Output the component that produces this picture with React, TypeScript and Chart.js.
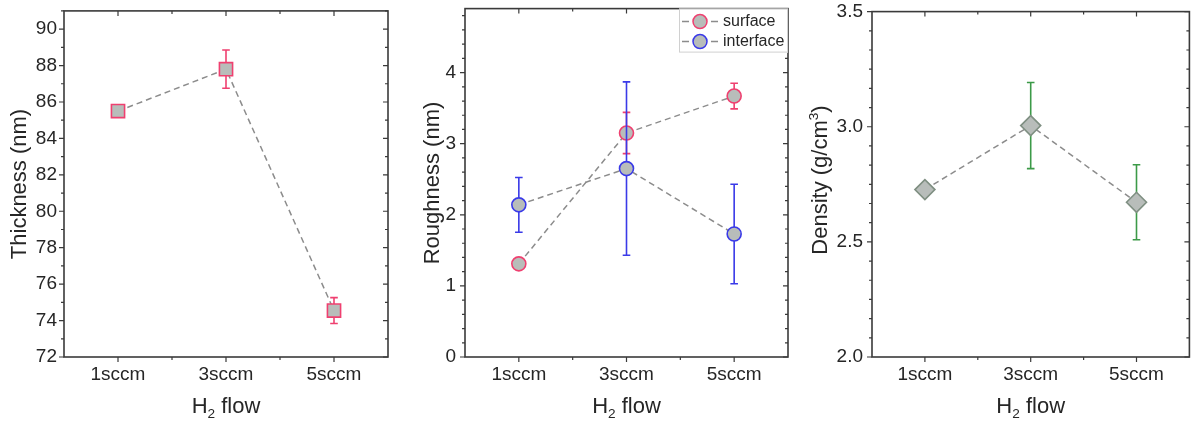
import React, { useEffect, useRef } from 'react';
import { Chart, registerables } from 'chart.js';

Chart.register(...registerables);

// ---------------- data ----------------
const CATEGORIES = ['1sccm', '3sccm', '5sccm'];

const THICKNESS = [85.5, 87.8, 74.55];
const THICKNESS_ERR = [0.1, 1.05, 0.71];

const SURFACE = [1.31, 3.15, 3.67];
const SURFACE_ERR = [0.07, 0.29, 0.18];
const INTERFACE = [2.14, 2.65, 1.73];
const INTERFACE_ERR = [0.385, 1.22, 0.7];

const DENSITY = [2.727, 3.005, 2.672];
const DENSITY_ERR = [0.02, 0.187, 0.163];

const THICKNESS_TICKS = [72, 74, 76, 78, 80, 82, 84, 86, 88, 90];
const ROUGHNESS_TICKS = [0, 1, 2, 3, 4];
const DENSITY_TICKS = [2.0, 2.5, 3.0, 3.5];

const LEGEND_LABELS = ['surface', 'interface'];

// ---------------- style ----------------
const FONT = '"Liberation Sans", Arial, Helvetica, sans-serif';
const TEXT = '#262626';
const FRAME = '#3a3a3a';
const MARKER_FILL = '#b8bdba';
const LINE_GRAY = '#8c8c8c';
const RED = '#ef4070';
const BLUE = '#3a3ae8';
const GREEN = '#3c9a48';
const DIAMOND_EDGE = '#7f8f82';

type Seg = { t: string; s?: 'sub' | 'sup' };

function minorTicks(majors: number[], n: number, lo: number, hi: number) {
  const step = (majors[1] - majors[0]) / n;
  const out: number[] = [];
  const k0 = Math.ceil((lo - majors[0]) / step - 1e-9);
  const k1 = Math.floor((hi - majors[0]) / step + 1e-9);
  for (let k = k0; k <= k1; k++) {
    if (((k % n) + n) % n === 0) continue;
    out.push(majors[0] + k * step);
  }
  return out;
}

function drawRich(ctx: CanvasRenderingContext2D, segs: Seg[], cx: number, baseline: number, size: number) {
  const fontFor = (s?: string) => `${s ? size * 0.62 : size}px ${FONT}`;
  let total = 0;
  const widths = segs.map((g) => {
    ctx.font = fontFor(g.s);
    const w = ctx.measureText(g.t).width;
    total += w;
    return w;
  });
  let x = cx - total / 2;
  ctx.textAlign = 'left';
  ctx.textBaseline = 'alphabetic';
  segs.forEach((g, i) => {
    ctx.font = fontFor(g.s);
    const dy = g.s === 'sub' ? size * 0.22 : g.s === 'sup' ? -size * 0.42 : 0;
    ctx.fillText(g.t, x, baseline + dy);
    x += widths[i];
  });
}

type DS = {
  label: string;
  data: number[];
  err: number[];
  pointStyle: string;
  radius: number;
  edge: string;
  errColor: string;
  order: number;
};

type Spec = {
  datasets: DS[];
  yMin: number;
  yMax: number;
  yTicks: number[];
  yMinorN: number;
  yAxisWidth: number;
  yTickPad: number;
  padRight: number;
  yTitle: Seg[];
  yTitleBaseX: number;
  yTitleCY: number;
  fmt?: (v: number) => string;
  legend?: boolean;
};

function makeConfig(p: Spec): any {
  const yMinor = minorTicks(p.yTicks, p.yMinorN, p.yMin, p.yMax);
  const plugin = {
    id: 'panelDecor',
    beforeDatasetDraw(chart: any, args: any) {
      const d = p.datasets[args.index];
      if (!d) return;
      const ctx = chart.ctx;
      const ys = chart.scales.y;
      const meta = chart.getDatasetMeta(args.index);
      ctx.save();
      ctx.strokeStyle = d.errColor;
      ctx.lineWidth = 1.6;
      d.data.forEach((v, j) => {
        const x = meta.data[j].x;
        const y1 = ys.getPixelForValue(v + d.err[j]);
        const y2 = ys.getPixelForValue(v - d.err[j]);
        ctx.beginPath();
        ctx.moveTo(x, y1);
        ctx.lineTo(x, y2);
        ctx.moveTo(x - 3.8, y1);
        ctx.lineTo(x + 3.8, y1);
        ctx.moveTo(x - 3.8, y2);
        ctx.lineTo(x + 3.8, y2);
        ctx.stroke();
      });
      ctx.restore();
    },
    afterDraw(chart: any) {
      const ctx = chart.ctx;
      const { left, right, top, bottom } = chart.chartArea;
      const xs = chart.scales.x;
      const ys = chart.scales.y;
      ctx.save();
      ctx.strokeStyle = FRAME;
      ctx.lineWidth = 1.2;
      ctx.beginPath();
      p.yTicks.forEach((v) => {
        const py = ys.getPixelForValue(v);
        if (py < top - 0.5 || py > bottom + 0.5) return;
        ctx.moveTo(left - 5, py);
        ctx.lineTo(left, py);
        ctx.moveTo(right, py);
        ctx.lineTo(right - 5, py);
      });
      yMinor.forEach((v) => {
        const py = ys.getPixelForValue(v);
        ctx.moveTo(left - 3, py);
        ctx.lineTo(left, py);
        ctx.moveTo(right, py);
        ctx.lineTo(right - 3, py);
      });
      CATEGORIES.forEach((_, i) => {
        const px = xs.getPixelForValue(i);
        ctx.moveTo(px, bottom);
        ctx.lineTo(px, bottom + 5);
        ctx.moveTo(px, top);
        ctx.lineTo(px, top + 5);
      });
      for (let i = 0; i < CATEGORIES.length - 1; i++) {
        const px = xs.getPixelForValue(i + 0.5);
        ctx.moveTo(px, bottom);
        ctx.lineTo(px, bottom + 3);
        ctx.moveTo(px, top);
        ctx.lineTo(px, top + 3);
      }
      ctx.stroke();
      ctx.lineWidth = 1.6;
      ctx.strokeRect(left, top, right - left, bottom - top);

      // titles
      ctx.fillStyle = TEXT;
      drawRich(ctx, [{ t: 'H' }, { t: '2', s: 'sub' }, { t: ' flow' }], (left + right) / 2, 413, 22);
      ctx.save();
      ctx.translate(p.yTitleBaseX, p.yTitleCY);
      ctx.rotate(-Math.PI / 2);
      drawRich(ctx, p.yTitle, 0, 0, 22);
      ctx.restore();

      // legend
      if (p.legend) {
        const bx = right - 109;
        const by = top;
        const bw = 109;
        const bh = 44;
        ctx.fillStyle = '#ffffff';
        ctx.fillRect(bx, by, bw, bh);
        ctx.strokeStyle = '#d0d0d0';
        ctx.lineWidth = 1;
        ctx.strokeRect(bx + 0.5, by + 0.5, bw - 1, bh - 1);
        p.datasets.forEach((d, i) => {
          const cy = by + 13 + i * 20;
          const mx = bx + 21;
          ctx.strokeStyle = LINE_GRAY;
          ctx.lineWidth = 1.5;
          ctx.beginPath();
          ctx.moveTo(bx + 3, cy);
          ctx.lineTo(bx + 10, cy);
          ctx.moveTo(mx + 11, cy);
          ctx.lineTo(mx + 18, cy);
          ctx.stroke();
          ctx.beginPath();
          ctx.arc(mx, cy, 7, 0, Math.PI * 2);
          ctx.fillStyle = MARKER_FILL;
          ctx.fill();
          ctx.strokeStyle = d.edge;
          ctx.lineWidth = 1.5;
          ctx.stroke();
          ctx.fillStyle = TEXT;
          ctx.font = `16px ${FONT}`;
          ctx.textAlign = 'left';
          ctx.textBaseline = 'middle';
          ctx.fillText(LEGEND_LABELS[i] ?? d.label, bx + 44, cy);
        });
      }
      ctx.restore();
    },
  };

  return {
    type: 'line',
    data: {
      labels: CATEGORIES,
      datasets: p.datasets.map((d) => ({
        label: d.label,
        data: d.data,
        order: d.order,
        borderColor: LINE_GRAY,
        borderWidth: 1.5,
        borderDash: [6, 4],
        fill: false,
        tension: 0,
        pointStyle: d.pointStyle,
        pointRadius: d.radius,
        pointHoverRadius: d.radius,
        pointBackgroundColor: MARKER_FILL,
        pointBorderColor: d.edge,
        pointBorderWidth: 1.6,
        clip: false,
      })),
    },
    options: {
      animation: false,
      responsive: false,
      devicePixelRatio: 1,
      layout: { padding: { top: 8, right: p.padRight, left: 0, bottom: 0 } },
      plugins: { legend: { display: false }, tooltip: { enabled: false }, title: { display: false } },
      events: [],
      scales: {
        x: {
          type: 'category',
          offset: true,
          grid: { display: false, drawTicks: false },
          border: { display: false },
          ticks: { color: TEXT, font: { family: FONT, size: 19 }, padding: 6, maxRotation: 0 },
          afterFit(s: any) {
            s.height = 71;
            s.paddingLeft = 0;
            s.paddingRight = 0;
          },
        },
        y: {
          type: 'linear',
          min: p.yMin,
          max: p.yMax,
          grid: { display: false, drawTicks: false },
          border: { display: false },
          ticks: {
            color: TEXT,
            font: { family: FONT, size: 19 },
            padding: p.yTickPad,
            autoSkip: false,
            callback: (v: any) => (p.fmt ? p.fmt(Number(v)) : String(v)),
          },
          afterBuildTicks(s: any) {
            s.ticks = p.yTicks.map((v) => ({ value: v }));
          },
          afterFit(s: any) {
            s.width = p.yAxisWidth;
            s.paddingTop = 0;
            s.paddingBottom = 0;
          },
        },
      },
    },
    plugins: [plugin],
  };
}

const SPECS: { left: number; width: number; spec: Spec }[] = [
  {
    left: 0,
    width: 400,
    spec: {
      datasets: [
        { label: 'thickness', data: THICKNESS, err: THICKNESS_ERR, pointStyle: 'rect', radius: 9.3, edge: RED, errColor: RED, order: 1 },
      ],
      yMin: 72,
      yMax: 91,
      yTicks: THICKNESS_TICKS,
      yMinorN: 2,
      yAxisWidth: 64,
      yTickPad: 7,
      padRight: 12,
      yTitle: [{ t: 'Thickness (nm)' }],
      yTitleBaseX: 26,
      yTitleCY: 184,
    },
  },
  {
    left: 400,
    width: 400,
    spec: {
      datasets: [
        { label: 'surface', data: SURFACE, err: SURFACE_ERR, pointStyle: 'circle', radius: 7, edge: RED, errColor: RED, order: 2 },
        { label: 'interface', data: INTERFACE, err: INTERFACE_ERR, pointStyle: 'circle', radius: 7, edge: BLUE, errColor: BLUE, order: 1 },
      ],
      yMin: 0,
      yMax: 4.9,
      yTicks: ROUGHNESS_TICKS,
      yMinorN: 5,
      yAxisWidth: 65,
      yTickPad: 9,
      padRight: 12,
      yTitle: [{ t: 'Roughness (nm)' }],
      yTitleBaseX: 39,
      yTitleCY: 183,
      legend: true,
    },
  },
  {
    left: 800,
    width: 401,
    spec: {
      datasets: [
        { label: 'density', data: DENSITY, err: DENSITY_ERR, pointStyle: 'rectRot', radius: 10, edge: DIAMOND_EDGE, errColor: GREEN, order: 1 },
      ],
      yMin: 2.0,
      yMax: 3.5,
      yTicks: DENSITY_TICKS,
      yMinorN: 6,
      yAxisWidth: 72,
      yTickPad: 9,
      padRight: 10,
      yTitle: [{ t: 'Density (g/cm' }, { t: '3', s: 'sup' }, { t: ')' }],
      yTitleBaseX: 27,
      yTitleCY: 180,
      fmt: (v) => v.toFixed(1),
    },
  },
];

function Panel({ left, width, spec }: { left: number; width: number; spec: Spec }) {
  const ref = useRef<HTMLCanvasElement>(null);
  useEffect(() => {
    if (!ref.current) return;
    const chart = new Chart(ref.current, makeConfig(spec));
    return () => chart.destroy();
  }, []);
  return (
    <canvas
      ref={ref}
      width={width}
      height={428}
      style={{ position: 'absolute', left, top: 0, width, height: 428, display: 'block' }}
    />
  );
}

export default function App() {
  return (
    <div style={{ position: 'absolute', left: 0, top: 0, width: 1201, height: 428, background: '#ffffff', overflow: 'hidden' }}>
      {SPECS.map((s, i) => (
        <Panel key={i} left={s.left} width={s.width} spec={s.spec} />
      ))}
    </div>
  );
}
